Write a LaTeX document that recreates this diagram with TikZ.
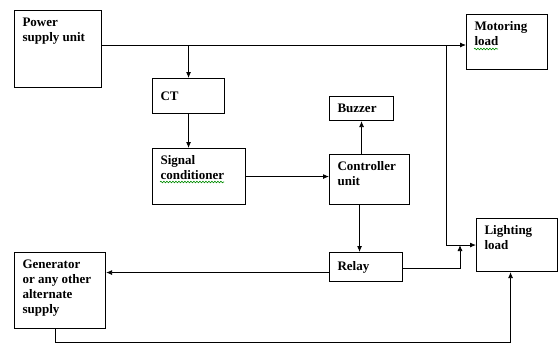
\documentclass[tikz,border=0pt]{standalone}
\usepackage{fontspec}
\setmainfont{Liberation Serif}
\usetikzlibrary{arrows.meta, decorations.pathmorphing}

\newcommand{\blocktext}[4]{\parbox[c][#2][#3]{#1}{\raggedright #4}}

\tikzset{
  blk/.style={draw, line width=1.1pt, anchor=north west, inner xsep=8pt, inner ysep=7pt,
    font=\fontsize{13}{15}\selectfont\bfseries},
  link/.style={line width=0.8pt},
  spell/.style={green!55!black, line width=0.6pt, decorate,
    decoration={snake, amplitude=0.8pt, segment length=3pt}},
}

\begin{document}
\begin{tikzpicture}[x=1pt, y=-1pt, >={Latex[length=6pt, width=5pt]}]
    \useasboundingbox (0,0) rectangle (558,343);

    \node [blk] (psu) at (14,10) {\blocktext{71pt}{63pt}{t}{Power\\supply unit}};
    \node [blk] (motor) at (466,14) {\blocktext{65pt}{41pt}{t}{Motoring\\load}};
    \node [blk] (ct) at (152,78) {\blocktext{56pt}{21pt}{c}{CT}};
    \node [blk] (buzz) at (329,96) {\blocktext{48pt}{10pt}{c}{Buzzer}};
    \node [blk] (sc) at (152,148) {\blocktext{77pt}{42pt}{t}{Signal\\conditioner}};
    \node [blk] (ctrl) at (329,154) {\blocktext{64pt}{36pt}{t}{Controller\\unit}};
    \node [blk] (light) at (476,218) {\blocktext{65pt}{39pt}{t}{Lighting\\load}};
    \node [blk] (relay) at (329,252) {\blocktext{57pt}{15pt}{c}{Relay}};
    \node [blk] (gen) at (14,252) {\blocktext{75pt}{62pt}{t}{Generator\\or any other\\alternate\\supply}};

    % spell check marks
    \draw [spell] ([shift={(8,35)}]motor.north west) -- ++(24,0);
    \draw [spell] ([shift={(8,34)}]sc.north west) -- ++(64,0);

    \coordinate (bus) at (446,45);
    \coordinate (join) at ([xshift=-16pt]light.west);

    \draw [link, ->] (psu.east |- bus) -- (motor.west |- bus);
    \draw [link, ->] (ct.north |- bus) -- (ct.north);
    \draw [link, ->] (ct.south) -- (ct.south |- sc.north);
    \draw [link, ->] (sc.east) -- (sc.east -| ctrl.west);
    \draw [link, ->] (ctrl.north -| buzz.south) -- (buzz.south);
    \draw [link, ->] ([xshift=-10pt]ctrl.south) -- ([xshift=-10pt]ctrl.south |- relay.north);
    \draw [link, ->] (bus) |- (light.west);
    \draw [link, ->] ([yshift=-1.5pt]relay.east) -| (join);
    \draw [link, ->] ([yshift=-5.5pt]relay.west) -- ([yshift=-5.5pt]relay.west -| gen.east);
    \draw [link, ->] ([xshift=-4.5pt]gen.south) -- ++(0,13.5) -| ([xshift=-6.5pt]light.south);
\end{tikzpicture}
\end{document}
